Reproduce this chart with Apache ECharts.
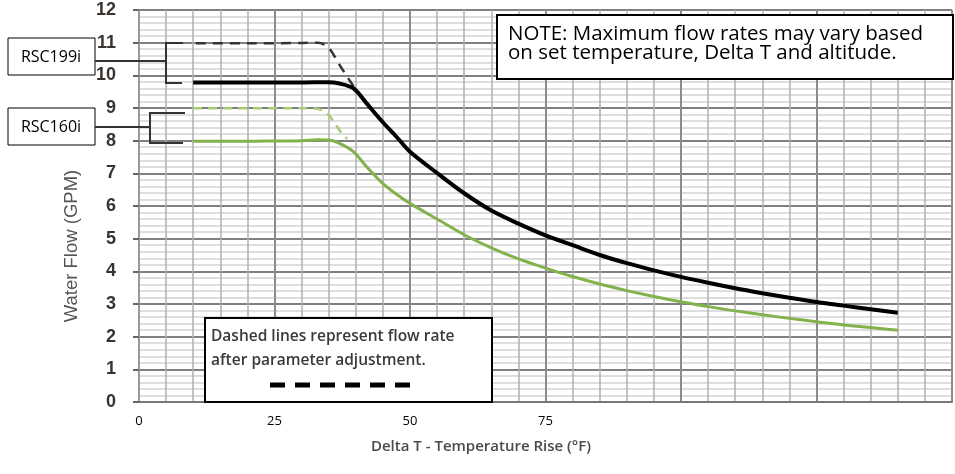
<!DOCTYPE html>
<html>
<head>
<meta charset="utf-8">
<script src="https://cdn.jsdelivr.net/npm/echarts@6/dist/echarts.min.js"></script>
<style>
html,body{margin:0;padding:0;background:#fff;}
#chart{width:955px;height:474px;}
</style>
</head>
<body>
<div id="chart"></div>
<script>
// ---- data ----
const xTickLabels = ['0', '25', '50', '75'];
const yTickLabels = ['0','1','2','3','4','5','6','7','8','9','10','11','12'];

const rsc199Solid = [
  [10,9.78],[15,9.78],[20,9.78],[25,9.78],[30,9.78],[34.9,9.79],[37,9.75],[39.6,9.6],
  [42,9.14],[44.9,8.58],[47.5,8.12],[50,7.66],[55,7.01],[60,6.39],[65,5.86],[70,5.46],
  [75,5.1],[80,4.8],[85,4.5],[90,4.25],[95,4.03],[100,3.83],[105,3.65],[110,3.48],
  [115,3.33],[120,3.19],[125,3.06],[130,2.95],[135,2.84],[140,2.73]
];
const rsc199Dashed = [
  [10.5,10.98],[20,10.98],[30,10.99],[33,11.0],[34.1,10.95],[35.3,10.78],[37,10.32],[38.8,9.86],[39.6,9.66]
];
const rsc160Solid = [
  [10,7.98],[15,7.98],[20,7.98],[25,7.99],[30,8.0],[33,8.03],[35,8.02],[37,7.92],[39.6,7.66],
  [42,7.2],[44.9,6.7],[47.5,6.36],[50,6.08],[55,5.6],[60,5.12],[65,4.72],[70,4.38],[75,4.1],
  [80,3.84],[85,3.61],[90,3.41],[95,3.23],[100,3.07],[105,2.92],[110,2.79],[115,2.67],
  [120,2.56],[125,2.46],[130,2.36],[135,2.28],[140,2.2]
];
const rsc160Dashed = [
  [10,8.99],[20,8.99],[30.3,8.99],[32.9,8.98],[35,8.78],[37,8.32],[38.4,8.05]
];

const noteText = 'NOTE: Maximum flow rates may vary based\non set temperature, Delta T and altitude.';
const legendText = 'Dashed lines represent flow rate\nafter parameter adjustment.';
const yAxisTitle = 'Water Flow (GPM)';
const xAxisTitle = 'Delta T - Temperature Rise (°F)';

const chart = echarts.init(document.getElementById('chart'), null, {renderer: 'canvas'});

const labelFont = '"Open Sans", "Liberation Sans", sans-serif';

const option = {
  animation: false,
  backgroundColor: '#fff',
  grid: {left: 139, top: 10, bottom: 72, right: -9, containLabel: false},
  xAxis: {
    type: 'value', min: 0, max: 150, interval: 25,
    axisLine: {show: true, lineStyle: {color: '#777', width: 2}},
    axisTick: {show: false},
    axisLabel: {
      margin: 13, color: '#000', fontSize: 13, fontFamily: labelFont,
      formatter: v => (xTickLabels.indexOf(String(v)) >= 0 ? String(v) : '')
    },
    splitLine: {show: true, lineStyle: {color: '#8c8c8c', width: 2}},
    minorTick: {show: false, splitNumber: 5},
    minorSplitLine: {show: true, lineStyle: {color: '#b0b0b0', width: 1.5}}
  },
  yAxis: {
    type: 'value', min: 0, max: 12, interval: 1,
    axisLine: {show: true, lineStyle: {color: '#999', width: 2}},
    axisTick: {show: true, inside: false, length: 6, lineStyle: {color: '#666', width: 2}},
    axisLabel: {
      margin: 23, color: '#3a3430', fontSize: 18, fontWeight: 'bold',
      fontFamily: '"Liberation Sans Narrow", "Liberation Sans", Arial, sans-serif',
      formatter: v => yTickLabels[v] || ''
    },
    splitLine: {show: true, lineStyle: {color: '#808080', width: 2}},
    minorTick: {show: false, splitNumber: 5},
    minorSplitLine: {show: true, lineStyle: {color: '#d3d3d3', width: 1.5}}
  },
  series: [
    {type: 'line', data: rsc160Dashed, symbol: 'none', smooth: 0.3,
     lineStyle: {color: '#a6cc74', width: 2.5, type: [9, 6]}, z: 3},
    {type: 'line', data: rsc199Dashed, symbol: 'none', smooth: 0.3,
     lineStyle: {color: '#333', width: 2.5, type: [10, 7]}, z: 3},
    {type: 'line', data: rsc160Solid, symbol: 'none', smooth: 0.3,
     lineStyle: {color: '#83b14c', width: 3}, z: 4},
    {type: 'line', data: rsc199Solid, symbol: 'none', smooth: 0.3,
     lineStyle: {color: '#000', width: 4}, z: 5}
  ],
  graphic: [
    // Note box
    {type: 'rect', shape: {x: 497, y: 15, width: 456, height: 64},
     style: {fill: '#fff', stroke: '#000', lineWidth: 2}, z: 100},
    {type: 'text', x: 508, y: 24, z: 101,
     style: {text: noteText, fill: '#000', font: '20.5px ' + labelFont, lineHeight: 19.5}},
    // Dashed-line legend box
    {type: 'rect', shape: {x: 205, y: 318, width: 287, height: 84},
     style: {fill: '#fff', stroke: '#000', lineWidth: 2}, z: 100},
    {type: 'text', x: 211, y: 325, z: 101,
     style: {text: legendText, fill: '#3a3a3a', font: '600 15.5px ' + labelFont, lineHeight: 24}},
    {type: 'line', shape: {x1: 270, y1: 385, x2: 412, y2: 385}, z: 101,
     style: {stroke: '#000', lineWidth: 5, lineDash: [15, 10]}},
    // RSC199i label & bracket
    {type: 'rect', shape: {x: 8, y: 38, width: 87, height: 37},
     style: {fill: '#fff', stroke: '#000', lineWidth: 1}, z: 100},
    {type: 'text', x: 51, y: 57, z: 101,
     style: {text: 'RSC199i', fill: '#000', font: '16px ' + labelFont, align: 'center', verticalAlign: 'middle'}},
    {type: 'line', shape: {x1: 95, y1: 61, x2: 166, y2: 61}, z: 100, style: {stroke: '#333', lineWidth: 2}},
    {type: 'polyline', shape: {points: [[183, 43], [166, 43], [166, 83], [182, 83]]}, z: 100,
     style: {stroke: '#333', lineWidth: 2, fill: null}},
    // RSC160i label & bracket
    {type: 'rect', shape: {x: 8, y: 108, width: 87, height: 37},
     style: {fill: '#fff', stroke: '#000', lineWidth: 1}, z: 100},
    {type: 'text', x: 51, y: 127, z: 101,
     style: {text: 'RSC160i', fill: '#000', font: '16px ' + labelFont, align: 'center', verticalAlign: 'middle'}},
    {type: 'line', shape: {x1: 95, y1: 127, x2: 150, y2: 127}, z: 100, style: {stroke: '#333', lineWidth: 2}},
    {type: 'polyline', shape: {points: [[185, 113], [150, 113], [150, 143], [183, 143]]}, z: 100,
     style: {stroke: '#333', lineWidth: 2, fill: null}},
    // Axis titles
    {type: 'text', x: 72, y: 246, rotation: Math.PI / 2, z: 101,
     style: {text: yAxisTitle, fill: '#555', font: '18.5px "Liberation Sans", Arial, sans-serif', align: 'center', verticalAlign: 'middle'}},
    {type: 'text', x: 481, y: 447, z: 101,
     style: {text: xAxisTitle, fill: '#4a4a4a', font: '600 15px ' + labelFont, align: 'center', verticalAlign: 'middle'}}
  ]
};
chart.setOption(option);
</script>
</body>
</html>
